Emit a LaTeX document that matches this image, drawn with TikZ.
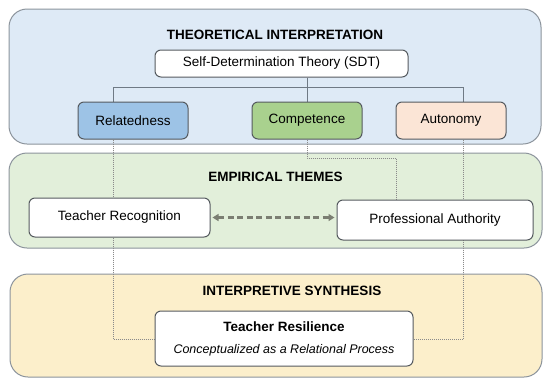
\documentclass[tikz,border=0pt]{standalone}
\usepackage{fontspec}
\setmainfont{Liberation Sans}
\usetikzlibrary{arrows.meta}
\pgfdeclarelayer{panels}
\pgfdeclarelayer{lines}
\pgfsetlayers{panels,lines,main}
\definecolor{pblue}{HTML}{DEEAF6}
\definecolor{pgreen}{HTML}{E2EFDA}
\definecolor{pyellow}{HTML}{FCEFCB}
\definecolor{pborder}{HTML}{8C949C}
\definecolor{relfill}{HTML}{9DC3E6}
\definecolor{compfill}{HTML}{A9D18E}
\definecolor{autfill}{HTML}{FBE5D6}
\definecolor{boxborder}{HTML}{555A5F}
\definecolor{connc}{HTML}{6F7A85}
\definecolor{dotc}{HTML}{8A8A8A}
\definecolor{arrc}{HTML}{7B7E72}
\begin{document}
\begin{tikzpicture}[x=1pt,y=-1pt,
  panel/.style={draw=pborder,line width=1pt,rounded corners=18pt,inner sep=0pt},
  box/.style={draw=boxborder,line width=1pt,rounded corners=6pt,inner sep=0pt,fill=white,
    font=\fontsize{13.5}{16}\selectfont},
  title/.style={font=\fontsize{13.5}{16}\selectfont\bfseries,inner sep=0pt},
  conn/.style={draw=connc,line width=1pt},
  dotline/.style={draw=dotc,line width=0.9pt,dash pattern=on 1pt off 1pt},
  arr/.style={draw=arrc,line width=2.2pt,dash pattern=on 6pt off 3.5pt,
    {Triangle[length=6pt,width=7pt]}-{Triangle[length=6pt,width=7pt]}}
]
\useasboundingbox (0,0) rectangle (550,384);

% panels
\begin{pgfonlayer}{panels}
\fill[white] (0,0) rectangle (550,384);
\node[panel,fill=pblue,minimum width=532pt,minimum height=135pt] (p1) at (275,76.5) {};
\node[panel,fill=pgreen,minimum width=533pt,minimum height=95pt] (p2) at (275.5,200.5) {};
\node[panel,fill=pyellow,minimum width=532pt,minimum height=103pt] (p3) at (276,325.5) {};
\end{pgfonlayer}

% titles
\node[title] (t1) at (275,35) {THEORETICAL INTERPRETATION};
\node[title] (t2) at (275.5,177) {EMPIRICAL THEMES};
\node[title] (t3) at (292,291) {INTERPRETIVE SYNTHESIS};

% boxes
\node[box,minimum width=253pt,minimum height=27pt] (sdt) at (281.5,63.5) {Self-Determination Theory (SDT)};
\node[box,fill=relfill,minimum width=110pt,minimum height=37pt] (rel) at (133,120.5) {Relatedness};
\node[box,fill=compfill,minimum width=110pt,minimum height=37pt] (comp) at (307,120.5) {Competence};
\node[box,fill=autfill,minimum width=110pt,minimum height=37pt] (aut) at (451,120.5) {Autonomy};
\node[box,minimum width=181pt,minimum height=39pt] (rec) at (119.5,217.5) {Teacher Recognition};
\node[box,minimum width=196pt,minimum height=40pt] (pa) at (435,220) {Professional Authority};
\node[box,minimum width=258pt,minimum height=55pt,align=center] (res) at (284,338.5)
  {{\fontsize{13.5}{16}\selectfont\bfseries Teacher Resilience}\\[6pt]
   {\fontsize{12.5}{15}\selectfont\itshape Conceptualized as a Relational Process}};

% coordinates
\coordinate (jR) at (113,87);
\coordinate (jA) at (463,87);
\coordinate (dL) at (113,339);
\coordinate (dR) at (463,339);
\coordinate (cK) at (396,158);

\begin{pgfonlayer}{lines}
\draw[conn] (sdt.south -| comp.north) -- (comp.north);
\draw[conn] (jR |- rel.north) -- (jR) -- (jA) -- (jA |- aut.north);
\draw[dotline] (jR |- rel.south) -- (dL) -- (dL -| res.west);
\draw[dotline] (jA |- aut.south) -- (dR) -- (dR -| res.east);
\draw[dotline] (comp.south) -- (comp.south |- cK) -- (cK) -- (cK |- pa.north);
\end{pgfonlayer}

\draw[arr] ([xshift=2pt]rec.east) -- ([xshift=-2pt]rec.east -| pa.west);
\end{tikzpicture}
\end{document}
